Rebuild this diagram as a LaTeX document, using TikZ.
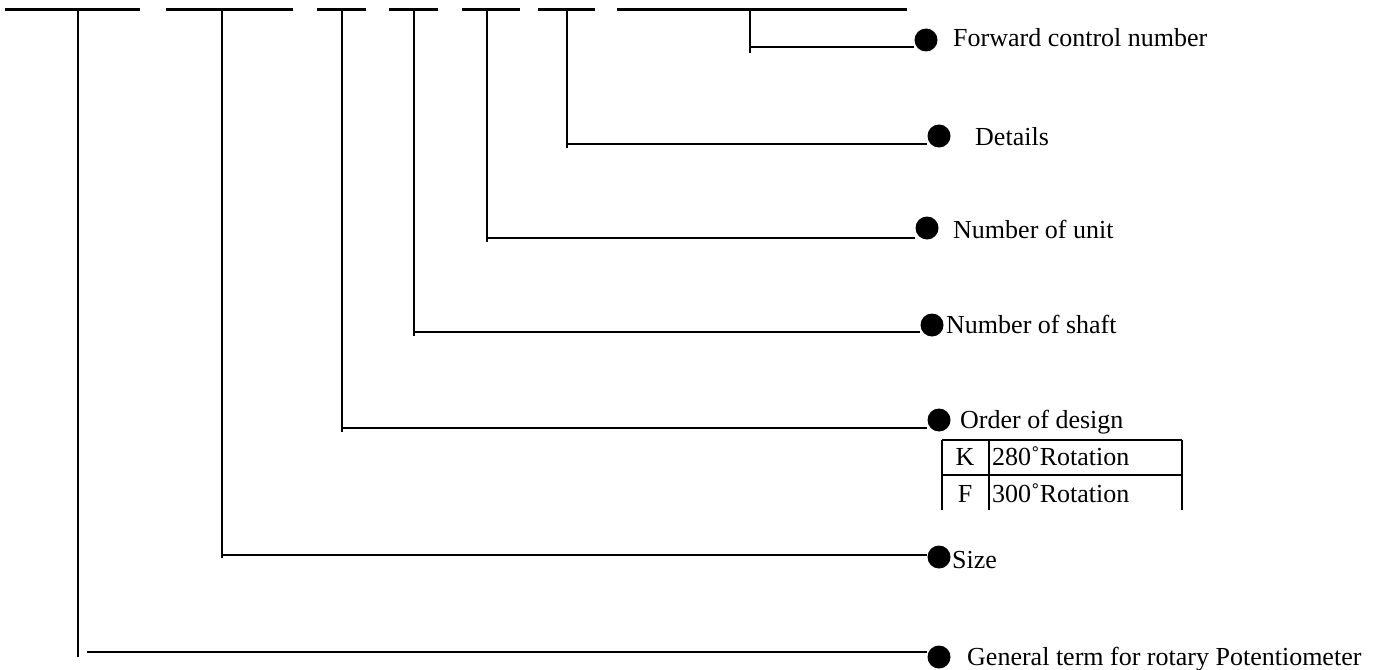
\documentclass[tikz,border=0pt]{standalone}
\usepackage{fontspec}
\setmainfont{Liberation Serif}
\begin{document}
\begin{tikzpicture}[x=1bp,y=-1bp,
  dashline/.style={line width=3bp},
  conn/.style={line width=1.8bp},
  grid/.style={line width=1.8bp},
  bullet/.style={circle,fill=black,inner sep=0pt,minimum size=23bp},
  lbl/.style={anchor=base west,inner sep=0pt,font=\fontsize{26bp}{30bp}\selectfont},
  clbl/.style={anchor=base,inner sep=0pt,font=\fontsize{26bp}{30bp}\selectfont}]
\useasboundingbox (0,0) rectangle (1384,670);
% top code dashes
\draw[dashline] (5,10) -- (140,10);
\draw[dashline] (166,10) -- (293,10);
\draw[dashline] (317,10) -- (366,10);
\draw[dashline] (389,10) -- (438,10);
\draw[dashline] (462,10) -- (520,10);
\draw[dashline] (538,10) -- (595,10);
\draw[dashline] (617,10) -- (907,10);
% tops and elbows
\coordinate (v1) at (78,10);  \coordinate (e1) at (78,657);  \coordinate (h1) at (87,652);
\coordinate (v2) at (222,10); \coordinate (e2) at (222,558); \coordinate (h2) at (222,555);
\coordinate (v3) at (342,10); \coordinate (e3) at (342,432); \coordinate (h3) at (342,428);
\coordinate (v4) at (414,10); \coordinate (e4) at (414,336); \coordinate (h4) at (414,332);
\coordinate (v5) at (487,10); \coordinate (e5) at (487,242); \coordinate (h5) at (487,238);
\coordinate (v6) at (567,10); \coordinate (e6) at (567,148); \coordinate (h6) at (567,144);
\coordinate (v7) at (750,10); \coordinate (e7) at (750,53);  \coordinate (h7) at (750,47);
% bullets and labels
\node[bullet] (d7) at (926,40) {};
\node[lbl] (t7) at (953,47) {Forward control number};
\node[bullet] (d6) at (939,136) {};
\node[lbl] (t6) at (975,145) {Details};
\node[bullet] (d5) at (927,228) {};
\node[lbl] (t5) at (953,238) {Number of unit};
\node[bullet] (d4) at (932,325) {};
\node[lbl] (t4) at (946,333) {Number of shaft};
\node[bullet] (d3) at (939,420) {};
\node[lbl] (t3) at (960,428) {Order of design};
\node[bullet] (d2) at (939,557) {};
\node[lbl] (t2) at (952,568) {Size};
\node[bullet] (d1) at (939,657) {};
\node[lbl] (t1) at (967,665) {General term for rotary Potentiometer};
% connectors
\foreach \i in {1,...,7} {
  \draw[conn] (v\i) -- (e\i);
  \draw[conn] (h\i) -- (h\i -| d\i.west);
}
% table
\draw[grid] (942,440) -- (1182,440);
\draw[grid] (942,475) -- (1182,475);
\draw[grid] (942,440) -- (942,510);
\draw[grid] (989,440) -- (989,510);
\draw[grid] (1182,440) -- (1182,510);
\node[clbl] (k) at (965,465) {K};
\node[lbl] (k280) at (992,465) {280˚Rotation};
\node[clbl] (f) at (965,502) {F};
\node[lbl] (f300) at (992,502) {300˚Rotation};
\end{tikzpicture}
\end{document}
